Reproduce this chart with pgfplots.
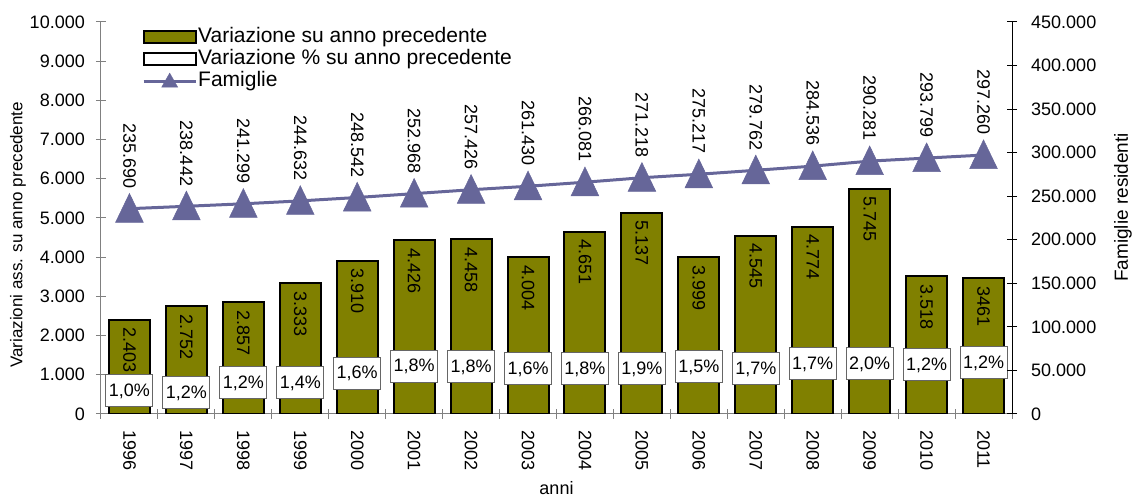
\documentclass[border=0pt]{standalone}
\usepackage{pgfplots}
\pgfplotsset{compat=1.18}
\usepackage{fontspec}
\setmainfont{Liberation Sans}
\newcommand\fs[1]{\fontsize{#1}{#1}\selectfont}
\definecolor{oliva}{RGB}{128,128,0}
\definecolor{fam}{RGB}{102,102,153}
\definecolor{asse}{RGB}{128,128,128}

\begin{document}
\begin{tikzpicture}
\path[use as bounding box] (-101pt,-83pt) rectangle (1031pt,414pt);
% asse sinistro: variazioni assolute
\begin{axis}[
    scale only axis, width=911pt, height=392pt,
    xmin=-0.5, xmax=15.5, ymin=0, ymax=10000,
    axis y line*=left, axis x line*=bottom,
    axis line style={asse, line width=1pt},
    xtick={-0.5,0.5,...,15.5},
    x tick label as interval,
    xticklabels={1996,1997,1998,1999,2000,2001,2002,2003,2004,2005,2006,2007,2008,2009,2010,2011},
    ytick={0,1000,...,10000},
    scaled y ticks=false,
    tick style={asse, line width=1pt},
    major tick length=10pt, tick align=center,
    yticklabel style={font=\fs{18}, inner xsep=11pt},
    xticklabel style={font=\fs{18}, rotate=-90, anchor=west, inner xsep=11pt},
    every axis y label/.style={at={(axis description cs:-0.0911,0.457)}, anchor=center, rotate=90, font=\fs{17}},
    every axis x label/.style={at={(axis description cs:0.5,-0.1888)}, anchor=center, font=\fs{18}},
    ylabel={Variazioni ass. su anno precedente},
    xlabel={anni},
    legend style={draw=none, fill=none, at={(0.045,0.99)}, anchor=north west,
        inner sep=0pt, row sep=0pt, font=\fs{21},
        nodes={inner sep=1pt, text height=15pt, text depth=5pt}},
    legend cell align=left,
    /pgf/number format/fixed,
    /pgf/number format/precision=0,
    /pgf/number format/1000 sep={.},
    /pgf/number format/assume math mode=true,
]
\addlegendimage{legend image code/.code={\draw[fill=oliva, draw=black, line width=2pt] (0pt,-6pt) rectangle (52pt,6pt);}}
\addlegendentry{Variazione su anno precedente}
\addlegendimage{legend image code/.code={\draw[fill=white, draw=black, line width=2pt] (0pt,-6pt) rectangle (52pt,6pt);}}
\addlegendentry{Variazione \% su anno precedente}
\addlegendimage{legend image code/.code={\draw[fam, line width=3pt] (0pt,0pt) -- (52pt,0pt); \fill[fam] (18pt,-6pt) -- (34pt,-6pt) -- (26pt,8pt) -- cycle;}}
\addlegendentry{Famiglie}

\addplot[ybar, bar width=41pt, fill=oliva, draw=black, line width=2pt, forget plot,
    nodes near coords, point meta=explicit symbolic,
    every node near coord/.append style={font=\fs{18}, text=black, rotate=-90, anchor=west, inner xsep=7pt, inner ysep=0pt}]
coordinates {
    (0,2403) [2.403]
    (1,2752) [2.752]
    (2,2857) [2.857]
    (3,3333) [3.333]
    (4,3910) [3.910]
    (5,4426) [4.426]
    (6,4458) [4.458]
    (7,4004) [4.004]
    (8,4651) [4.651]
    (9,5137) [5.137]
    (10,3999) [3.999]
    (11,4545) [4.545]
    (12,4774) [4.774]
    (13,5745) [5.745]
    (14,3518) [3.518]
    (15,3461) [3461]
};

% variazione percentuale (solo etichette)
\addplot[draw=none, mark=none, forget plot,
    nodes near coords, point meta=explicit symbolic,
    every node near coord/.append style={font=\fs{18}, text=black, anchor=center, draw=gray!80!black, fill=white, line width=1pt, minimum width=47pt, minimum height=32pt, inner sep=1pt}]
coordinates {
    (0,587) [1,0\%]
    (1,536) [1,2\%]
    (2,791) [1,2\%]
    (3,791) [1,4\%]
    (4,1033) [1,6\%]
    (5,1224) [1,8\%]
    (6,1199) [1,8\%]
    (7,1148) [1,6\%]
    (8,1148) [1,8\%]
    (9,1148) [1,9\%]
    (10,1199) [1,5\%]
    (11,1148) [1,7\%]
    (12,1276) [1,7\%]
    (13,1276) [2,0\%]
    (14,1250) [1,2\%]
    (15,1301) [1,2\%]
};
\end{axis}

% asse destro: famiglie residenti
\begin{axis}[
    scale only axis, width=911pt, height=392pt,
    xmin=-0.5, xmax=15.5, ymin=0, ymax=450000,
    axis y line*=right, axis x line=none,
    axis line style={black, line width=1pt},
    ytick={0,50000,...,450000},
    scaled y ticks=false,
    tick style={black, line width=1pt},
    major tick length=10pt, tick align=center,
    yticklabel style={font=\fs{18}, inner xsep=14pt},
    every axis y label/.style={at={(axis description cs:1.1218,0.527)}, anchor=center, rotate=90, font=\fs{19}},
    ylabel={Famiglie residenti},
    /pgf/number format/fixed,
    /pgf/number format/precision=0,
    /pgf/number format/1000 sep={.},
    /pgf/number format/assume math mode=true,
]
\addplot[fam, line width=3pt, mark=triangle*, mark size=16pt,
    mark options={solid, fill=fam, draw=fam, line width=0.5pt, yshift=-4pt, yscale=1.2},
    nodes near coords, point meta=explicit symbolic,
    every node near coord/.append style={font=\fs{18}, text=black, rotate=-90, anchor=east, inner xsep=24pt, inner ysep=0pt}]
coordinates {
    (0,235690) [235.690]
    (1,238442) [238.442]
    (2,241299) [241.299]
    (3,244632) [244.632]
    (4,248542) [248.542]
    (5,252968) [252.968]
    (6,257426) [257.426]
    (7,261430) [261.430]
    (8,266081) [266.081]
    (9,271218) [271.218]
    (10,275217) [275.217]
    (11,279762) [279.762]
    (12,284536) [284.536]
    (13,290281) [290.281]
    (14,293799) [293.799]
    (15,297260) [297.260]
};
\end{axis}
\end{tikzpicture}
\end{document}
